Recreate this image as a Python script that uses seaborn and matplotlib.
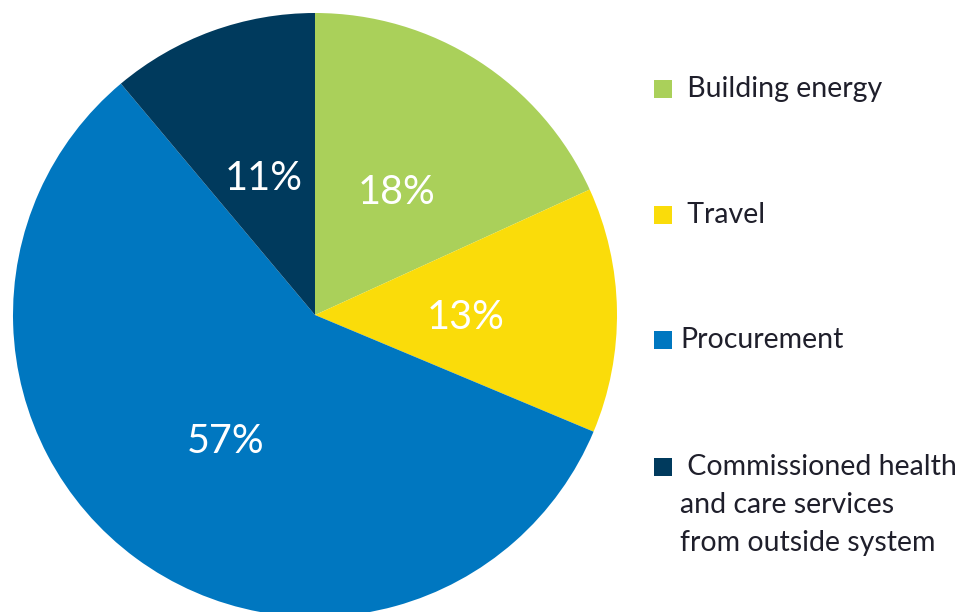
import matplotlib
matplotlib.use("Agg")
import matplotlib.pyplot as plt
import matplotlib.transforms as mtransforms
from matplotlib.patches import Rectangle
import seaborn as sns

categories = ["Building energy", "Travel", "Procurement",
              "Commissioned health\nand care services\nfrom outside system"]
legend_labels = [" Building energy", " Travel", "Procurement",
                 " Commissioned health\nand care services\nfrom outside system"]
values = [18, 13, 57, 11]
colors = ["#AAD05A", "#FADC0A", "#0077C0", "#003A5D"]

sns.set_theme(style="white")
plt.rcParams["font.family"] = ["Lato", "DejaVu Sans"]

W, H = 962, 612
fig = plt.figure(figsize=(W / 100, H / 100), dpi=100)
fig.patch.set_facecolor("white")

cx, cy, r = 315, 315, 302
ax = fig.add_axes([(cx - r) / W, (H - cy - r) / H, 2 * r / W, 2 * r / H])
total = sum(values)
wedges, texts, autotexts = ax.pie(
    values, colors=colors, startangle=90, counterclock=False,
    autopct=lambda p: f"{p * total / 100:.0f}%", pctdistance=0.5,
    wedgeprops=dict(linewidth=0, edgecolor="none"),
    textprops=dict(color="white", fontsize=28.5),
)
shift = mtransforms.ScaledTranslation(0, -5 / 100, fig.dpi_scale_trans)
for t in autotexts:
    t.set_transform(t.get_transform() + shift)
ax.set_xlim(-1, 1)
ax.set_ylim(-1, 1)
ax.set_aspect("equal")
ax.axis("off")

# legend drawn as squares + text
sq = 18
ys = [89, 215, 340, 467]
for lab, col, y in zip(legend_labels, colors, ys):
    fig.patches.append(Rectangle((654 / W, (H - y - sq / 2) / H), sq / W, sq / H,
                                 transform=fig.transFigure, facecolor=col,
                                 edgecolor="none"))
    if "\n" in lab:
        fig.text(680 / W, (H - (y - 13)) / H, lab, fontsize=20.5, color="#1F1F2B",
                 ha="left", va="top", linespacing=1.58)
    else:
        fig.text(680 / W, (H - y) / H, lab, fontsize=20.5, color="#1F1F2B",
                 ha="left", va="center")

fig.savefig("out.png", dpi=100, facecolor="white")
